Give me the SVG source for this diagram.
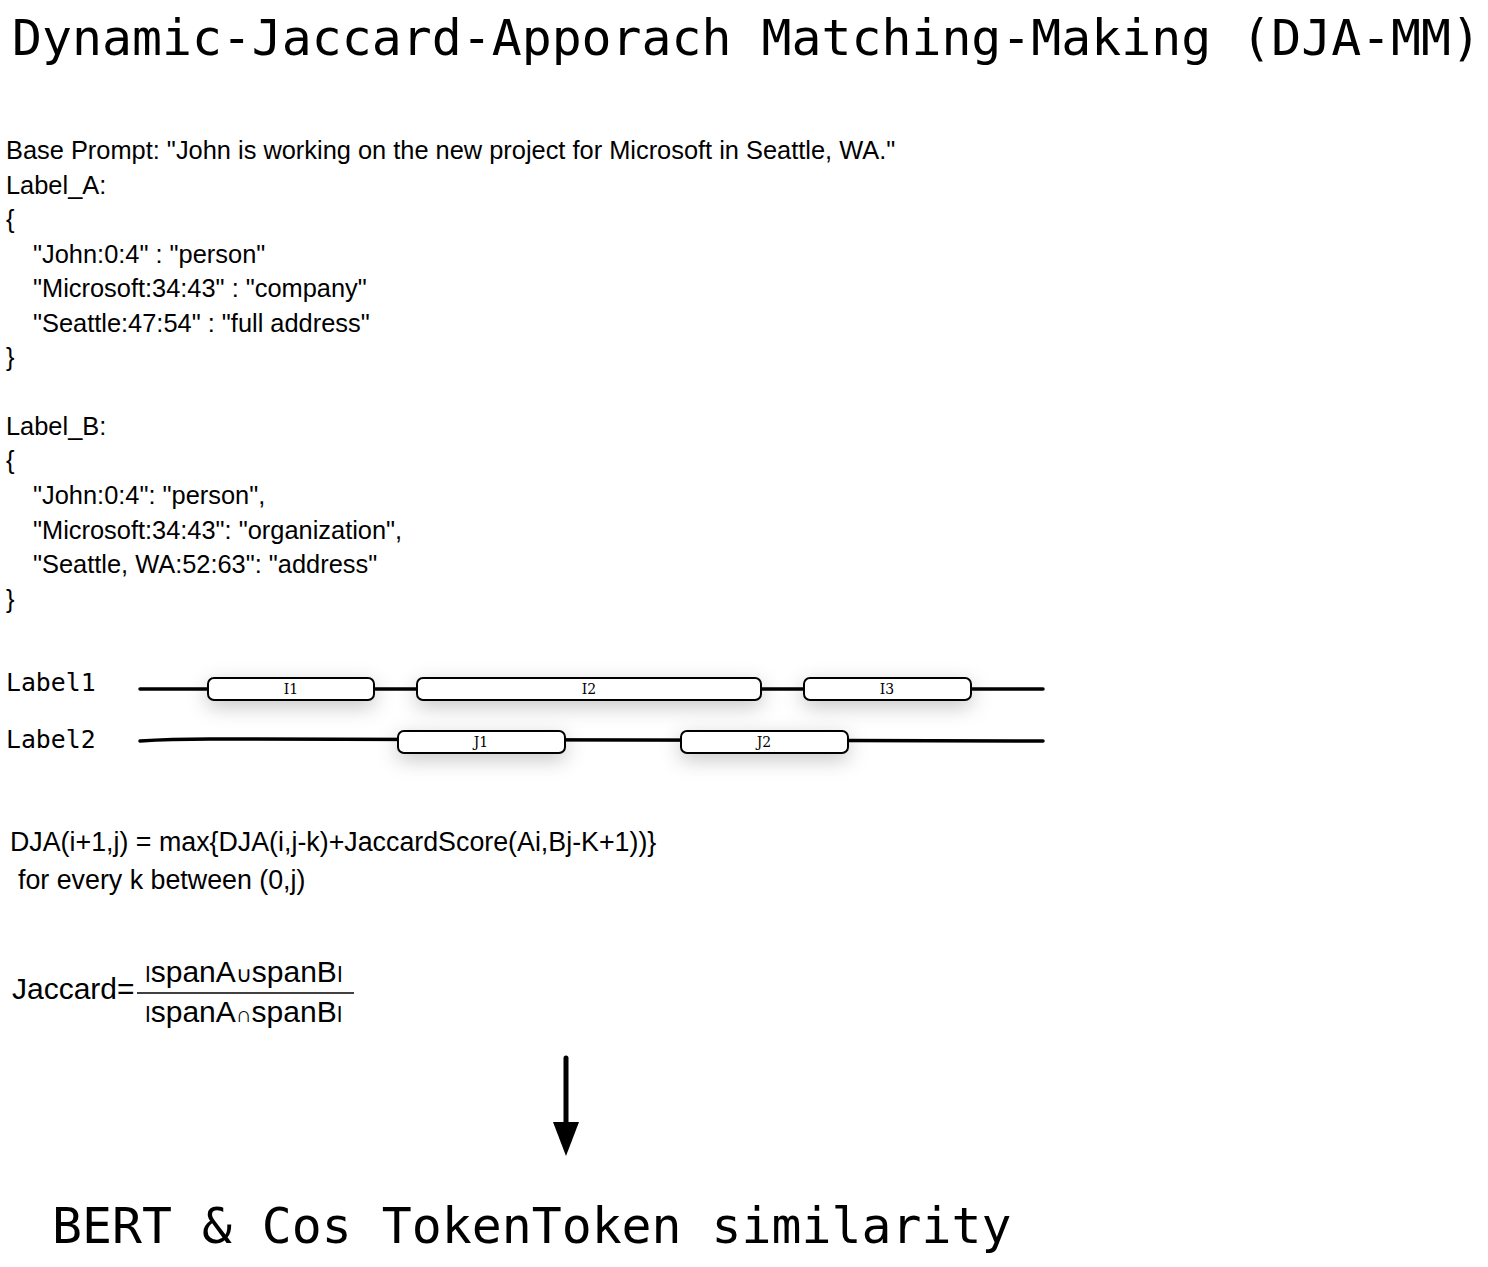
<svg xmlns="http://www.w3.org/2000/svg" width="1488" height="1267" viewBox="0 0 1488 1267">
<style>
.mono{font-family:"DejaVu Sans Mono","Liberation Mono",monospace;fill:#000}
.sans{font-family:"Liberation Sans",Arial,sans-serif;font-size:25.4px;fill:#000}
.f2{font-size:26.8px}
.f3{font-size:30px}
.box{fill:#fff;stroke:#000;stroke-width:2}
.blab{font-family:"DejaVu Serif","Liberation Serif",serif;font-size:14px;text-anchor:middle;fill:#000}
.track{stroke:#000;stroke-width:3.5;fill:none;stroke-linecap:round}
.bar{font-size:22px}
.cup{font-size:22px}
</style>
<defs>
<filter id="sh" x="-30%" y="-200%" width="160%" height="500%">
<feDropShadow dx="0" dy="6" stdDeviation="10" flood-color="#000" flood-opacity="0.22"/>
</filter>
</defs>
<rect width="1488" height="1267" fill="#fff"/>

<g id="title">
<text class="mono" x="12" y="55" font-size="49.8">Dynamic-Jaccard-Apporach Matching-Making (DJA-MM)</text>
</g>

<g id="prompt">
<text class="sans" x="6" y="159">Base Prompt: "John is working on the new project for Microsoft in Seattle, WA."</text>
<text class="sans" x="6" y="194">Label_A:</text>
<text class="sans" x="6" y="228">{</text>
<text class="sans" x="33" y="263">"John:0:4" : "person"</text>
<text class="sans" x="33" y="297">"Microsoft:34:43" : "company"</text>
<text class="sans" x="33" y="332">"Seattle:47:54" : "full address"</text>
<text class="sans" x="6" y="366">}</text>
<text class="sans" x="6" y="435">Label_B:</text>
<text class="sans" x="6" y="469">{</text>
<text class="sans" x="33" y="504">"John:0:4": "person",</text>
<text class="sans" x="33" y="539">"Microsoft:34:43": "organization",</text>
<text class="sans" x="33" y="573">"Seattle, WA:52:63": "address"</text>
<text class="sans" x="6" y="608">}</text>
</g>

<g id="connectors">
<path class="track" d="M140,689 L1043,689"/>
<path class="track" d="M140,741 Q170,739 210,739 L1043,741"/>
<line x1="566" y1="1058" x2="566" y2="1125" stroke="#000" stroke-width="5" stroke-linecap="round"/>
<polygon points="553,1122 579,1122 566,1156" fill="#000"/>
</g>

<g id="label1">
<text class="mono" x="6" y="691" font-size="24.8">Label1</text>
</g>
<g id="label2">
<text class="mono" x="6" y="748" font-size="24.8">Label2</text>
</g>

<g id="I1"><rect class="box" x="208" y="678" width="166" height="22" rx="6" filter="url(#sh)"/><text class="blab" x="291" y="694">I1</text></g>
<g id="I2"><rect class="box" x="417" y="678" width="344" height="22" rx="6" filter="url(#sh)"/><text class="blab" x="589" y="694">I2</text></g>
<g id="I3"><rect class="box" x="804" y="678" width="167" height="22" rx="6" filter="url(#sh)"/><text class="blab" x="887" y="694">I3</text></g>
<g id="J1"><rect class="box" x="398" y="731" width="167" height="22" rx="6" filter="url(#sh)"/><text class="blab" x="481" y="747">J1</text></g>
<g id="J2"><rect class="box" x="681" y="731" width="167" height="22" rx="6" filter="url(#sh)"/><text class="blab" x="764" y="747">J2</text></g>

<g id="formula">
<text class="sans f2" x="10" y="851">DJA(i+1,j) = max{DJA(i,j-k)+JaccardScore(Ai,Bj-K+1))}</text>
<text class="sans f2" x="18" y="889">for every k between (0,j)</text>
</g>

<g id="jaccard">
<text class="sans f3" x="12" y="999">Jaccard=</text>
<text class="sans f3" x="145" y="982"><tspan class="bar">ǀ</tspan>spanA<tspan class="cup">∪</tspan>spanB<tspan class="bar">ǀ</tspan></text>
<line x1="137" y1="993" x2="354" y2="993" stroke="#000" stroke-width="1.5"/>
<text class="sans f3" x="145" y="1022"><tspan class="bar">ǀ</tspan>spanA<tspan class="cup">∩</tspan>spanB<tspan class="bar">ǀ</tspan></text>
</g>

<g id="bert">
<text class="mono" x="52" y="1243" font-size="49.8">BERT &amp; Cos TokenToken similarity</text>
</g>
</svg>
